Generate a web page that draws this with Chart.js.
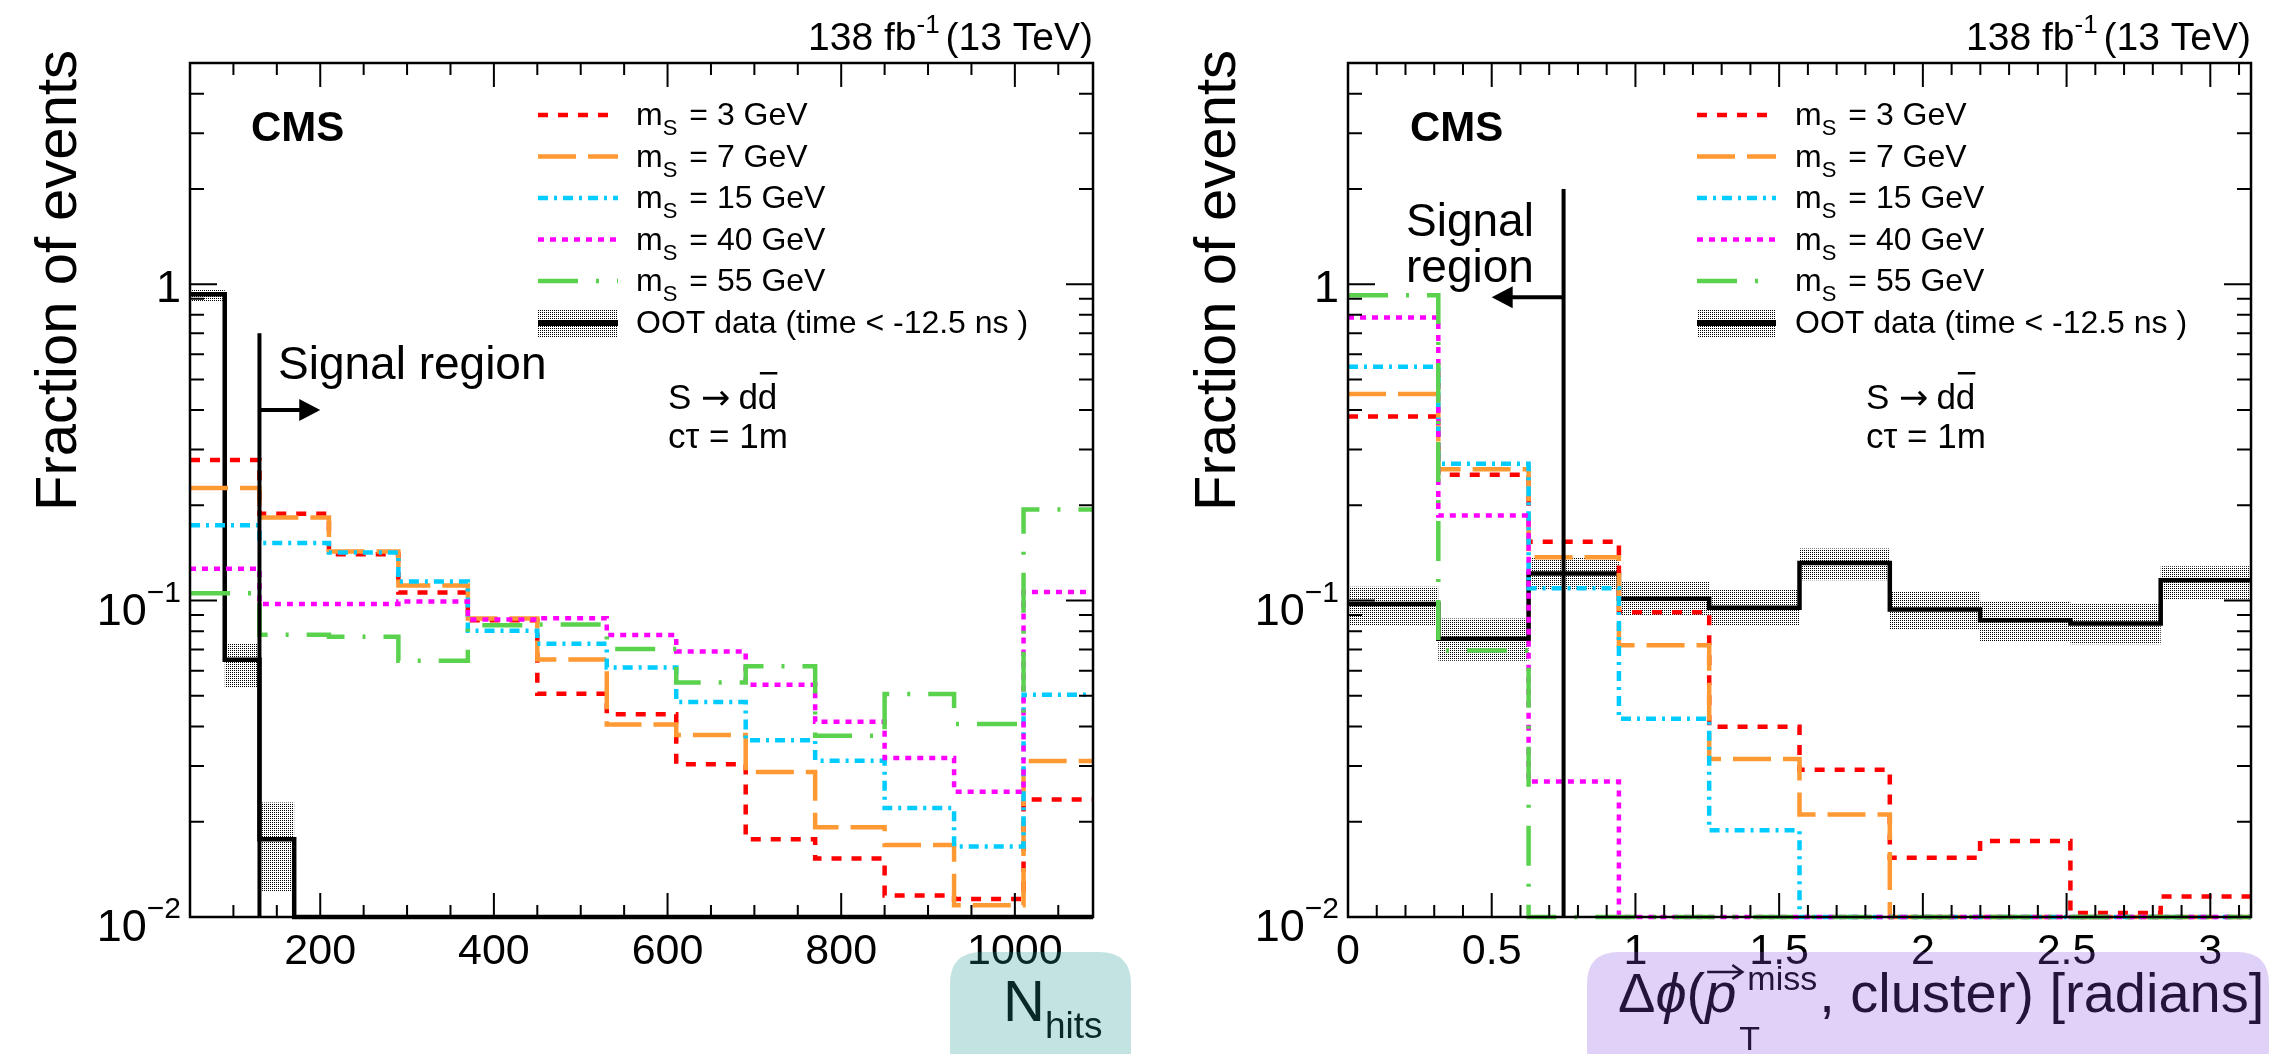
<!DOCTYPE html>
<html>
<head>
<meta charset="utf-8">
<script src="https://cdn.jsdelivr.net/npm/chart.js@4.4.1/dist/chart.umd.min.js"></script>
<style>
  body { margin: 0; background: #fff; }
  #wrap { position: relative; width: 2269px; height: 1054px; }
  canvas { position: absolute; top: 0; }
</style>
</head>
<body>
<div id="wrap">
  <canvas id="hitsChart" width="1134" height="1054" style="left:0"></canvas>
  <canvas id="dphiChart" width="1135" height="1054" style="left:1134px"></canvas>
</div>
<script>
// ---- data ----
const massLabels = ['3', '7', '15', '40', '55'];

// N_hits: signal bins (80 wide) and OOT data bins (40 wide)
const hitsEdges = [50, 130, 210, 290, 370, 450, 530, 610, 690, 770, 850, 930, 1010, 1090];
const hitsM3 = [0.278, 0.188, 0.140, 0.106, 0.0866, 0.0508, 0.0437, 0.0304, 0.0176, 0.0153, 0.0117, 0.0114, 0.0235];
const hitsM7 = [0.227, 0.183, 0.143, 0.1115, 0.0877, 0.0651, 0.0406, 0.0376, 0.0287, 0.0192, 0.0169, 0.0109, 0.0311];
const hitsM15 = [0.173, 0.152, 0.142, 0.115, 0.0803, 0.073, 0.0614, 0.0478, 0.0362, 0.0312, 0.0221, 0.0167, 0.0504];
const hitsM40 = [0.126, 0.0976, 0.0976, 0.0994, 0.0872, 0.088, 0.0778, 0.069, 0.0542, 0.0414, 0.0318, 0.0249, 0.1065];
const hitsM55 = [0.1054, 0.078, 0.0768, 0.0646, 0.0836, 0.084, 0.0703, 0.0551, 0.062, 0.0374, 0.0507, 0.0407, 0.194];
const hitsOotEdges = [50, 90, 130, 170, 210, 250, 290, 330, 370, 410, 450, 490, 530, 570, 610,
  650, 690, 730, 770, 810, 850, 890, 930, 970, 1010, 1050, 1090];
const hitsOot = [0.93, 0.065, 0.0176, 0, 0, 0, 0, 0, 0, 0, 0, 0, 0, 0, 0, 0, 0, 0, 0, 0, 0, 0, 0, 0, 0, 0];
const hitsOotLo = [0.885, 0.0532, 0.012, 0, 0, 0, 0, 0, 0, 0, 0, 0, 0, 0, 0, 0, 0, 0, 0, 0, 0, 0, 0, 0, 0, 0];
const hitsOotHi = [0.965, 0.0734, 0.023, 0, 0, 0, 0, 0, 0, 0, 0, 0, 0, 0, 0, 0, 0, 0, 0, 0, 0, 0, 0, 0, 0, 0];
const hitsTicks = [200, 400, 600, 800, 1000];

// delta phi: 10 bins of pi/10
const dphiEdges = [0, 0.3142, 0.6283, 0.9425, 1.2566, 1.5708, 1.885, 2.1991, 2.5133, 2.8274, 3.1416];
const dphiM3 = [0.382, 0.250, 0.1535, 0.0918, 0.0399, 0.0292, 0.0154, 0.0174, 0.0103, 0.0116];
const dphiM7 = [0.450, 0.260, 0.137, 0.0722, 0.0316, 0.0211, 0, 0, 0, 0];
const dphiM15 = [0.548, 0.2705, 0.1094, 0.0423, 0.0188, 0, 0, 0, 0, 0];
const dphiM40 = [0.785, 0.1856, 0.0268, 0, 0, 0, 0, 0, 0, 0];
const dphiM55 = [0.922, 0.0696, 0, 0, 0, 0, 0, 0, 0, 0];
const dphiOot = [0.0976, 0.0758, 0.1217, 0.1013, 0.095, 0.1315, 0.0938, 0.0867, 0.0847, 0.116];
const dphiOotLo = [0.0832, 0.0646, 0.1086, 0.090, 0.0832, 0.116, 0.081, 0.0742, 0.0728, 0.101];
const dphiOotHi = [0.1106, 0.0877, 0.137, 0.1145, 0.1086, 0.146, 0.107, 0.0989, 0.0976, 0.1284];
const dphiTicks = [0, 0.5, 1, 1.5, 2, 2.5, 3];

// signal region cuts
const hitsCut = { x: 130, top: 0.7, arrowY: 0.4, arrowTo: 200 };
const dphiCut = { x: 0.75, top: 2.0, arrowY: 0.91, arrowTo: 0.5 };

const yMin = 0.01, yMax = 5;

// ---- styles ----
const FONT = "'Liberation Sans', Arial, Helvetica, sans-serif";
Chart.defaults.font.family = FONT;
Chart.defaults.color = '#000';

const massStyles = [
  { color: '#ff0000', dash: [10, 10] },
  { color: '#ff9933', dash: [38, 12] },
  { color: '#00ccff', dash: [10, 6, 3, 6] },
  { color: '#ff00ff', dash: [6, 6] },
  { color: '#5ad24e', dash: [40, 18, 3, 18] }
];

// dotted fill like ROOT's hatch for the OOT band
function dotPattern() {
  const c = document.createElement('canvas');
  c.width = 2; c.height = 2;
  const g = c.getContext('2d');
  g.fillStyle = '#000';
  g.fillRect(0, 0, 1, 1);
  return g.createPattern(c, 'repeat');
}

function histPoints(edges, values) {
  const pts = values.map((v, i) => ({ x: edges[i], y: Math.max(v, yMin) }));
  pts.push({ x: edges[edges.length - 1], y: Math.max(values[values.length - 1], yMin) });
  return pts;
}

function fontStr(p) {
  return (p.style || '') + ' ' + (p.weight || '') + ' ' + p.size + 'px ' + (p.family || FONT);
}

// draws a run of text pieces (sub/superscripts via dy), returns end x
function drawParts(ctx, parts, x, y, align) {
  let w = 0;
  parts.forEach(p => { ctx.font = fontStr(p); p.w = ctx.measureText(p.t).width; w += p.w + (p.gap || 0); });
  let cx = align === 'right' ? x - w : x;
  parts.forEach(p => {
    ctx.font = fontStr(p);
    ctx.fillText(p.t, cx, y + (p.dy || 0));
    cx += p.w + (p.gap || 0);
  });
  return cx;
}

function roundRect(ctx, x, y, w, h, r) {
  ctx.beginPath();
  ctx.moveTo(x + r, y);
  ctx.lineTo(x + w - r, y);
  ctx.quadraticCurveTo(x + w, y, x + w, y + r);
  ctx.lineTo(x + w, y + h - r);
  ctx.quadraticCurveTo(x + w, y + h, x + w - r, y + h);
  ctx.lineTo(x + r, y + h);
  ctx.quadraticCurveTo(x, y + h, x, y + h - r);
  ctx.lineTo(x, y + r);
  ctx.quadraticCurveTo(x, y, x + r, y);
  ctx.closePath();
}

function makeDecor(p) {
  return {
    id: 'decor-' + p.id,
    afterDraw(chart) {
      const ctx = chart.ctx;
      const a = chart.chartArea;
      const xs = chart.scales.x, ys = chart.scales.y;
      ctx.save();
      ctx.fillStyle = '#000';
      ctx.strokeStyle = '#000';
      ctx.textAlign = 'left';
      ctx.textBaseline = 'alphabetic';

      // frame
      ctx.lineWidth = 2.5;
      ctx.strokeRect(a.left, a.top, a.right - a.left, a.bottom - a.top);

      // inward ticks on all four sides
      ctx.lineWidth = 2;
      ctx.beginPath();
      for (let v = p.xMinorStart; v <= xs.max + 1e-9; v += p.xMinorStep) {
        const px = xs.getPixelForValue(v);
        const major = p.xTicks.some(t => Math.abs(t - v) < 1e-6);
        const len = major ? 24 : 12;
        ctx.moveTo(px, a.bottom); ctx.lineTo(px, a.bottom - len);
        ctx.moveTo(px, a.top); ctx.lineTo(px, a.top + len);
      }
      for (let d = 0.01; d <= 1; d *= 10) {
        for (let k = 1; k <= 9; k++) {
          const v = k * d;
          if (v > yMax + 1e-9) break;
          const py = ys.getPixelForValue(v);
          const len = k === 1 ? 27 : 14;
          ctx.moveTo(a.left, py); ctx.lineTo(a.left + len, py);
          ctx.moveTo(a.right, py); ctx.lineTo(a.right - len, py);
        }
      }
      ctx.stroke();

      // y tick labels
      [0.01, 0.1, 1].forEach(v => {
        const py = ys.getPixelForValue(v);
        if (v === 1) {
          drawParts(ctx, [{ t: '1', size: 45 }], a.left - 9, py + 18, 'right');
        } else {
          const e = Math.round(Math.log10(v));
          ctx.font = fontStr({ size: 30 });
          const sw = ctx.measureText('\u2212' + (-e)).width;
          drawParts(ctx, [{ t: '10', size: 45 }], a.left - 9 - sw, py + 24, 'right');
          drawParts(ctx, [{ t: '\u2212' + (-e), size: 30 }], a.left - 9 - sw, py + 1, 'left');
        }
      });

      // y title
      ctx.save();
      ctx.translate(p.yTitleX, 50);
      ctx.rotate(-Math.PI / 2);
      ctx.textAlign = 'right';
      ctx.font = fontStr({ size: 58 });
      ctx.fillText('Fraction of events', 0, 0);
      ctx.restore();

      // luminosity label
      drawParts(ctx, [
        { t: '138 fb', size: 39 },
        { t: '-1', size: 26, dy: -17, gap: 6 },
        { t: '(13 TeV)', size: 39 }
      ], a.right, 50, 'right');

      // CMS
      drawParts(ctx, [{ t: 'CMS', size: 42, weight: 'bold' }], p.cmsX, 141, 'left');

      // legend
      const rows = [115, 156.5, 198, 239.5, 281, 323];
      const ds = chart.data.datasets.filter(d => d.isSignal);
      ds.forEach((d, i) => {
        const y = rows[i];
        ctx.save();
        ctx.strokeStyle = d.borderColor;
        ctx.lineWidth = d.borderWidth;
        ctx.setLineDash(d.borderDash);
        ctx.beginPath();
        ctx.moveTo(p.legend.x0, y); ctx.lineTo(p.legend.x1, y);
        ctx.stroke();
        ctx.restore();
        drawParts(ctx, [
          { t: 'm', size: 32 },
          { t: 'S', size: 22, dy: 10, gap: 12 },
          { t: '= ' + massLabels[i] + ' GeV', size: 32 }
        ], p.legend.tx, y + 10, 'left');
      });
      const yo = rows[5];
      ctx.fillStyle = p.pattern;
      ctx.fillRect(p.legend.x0, yo - 14, p.legend.x1 - p.legend.x0, 28);
      ctx.fillStyle = '#000';
      ctx.fillRect(p.legend.x0, yo - 3, p.legend.x1 - p.legend.x0, 6);
      drawParts(ctx, [{ t: 'OOT data (time < -12.5 ns )', size: 32 }], p.legend.tx, yo + 10, 'left');

      // process labels
      const ex = drawParts(ctx, [
        { t: 'S ', size: 35 },
        { t: '\u2192', size: 35, family: "'DejaVu Sans', sans-serif", gap: 8 },
        { t: 'd', size: 35 }
      ], p.procX, 409, 'left');
      ctx.font = fontStr({ size: 35 });
      const dw = ctx.measureText('d').width;
      ctx.fillText('d', ex, 409);
      ctx.fillRect(ex + 2, 372, dw - 2, 2.5);
      drawParts(ctx, [{ t: 'c\u03c4 = 1m', size: 35 }], p.procX, 448, 'left');

      // signal region arrow
      const cx = xs.getPixelForValue(p.cut.x);
      const ay = ys.getPixelForValue(p.cut.arrowY);
      const tx = xs.getPixelForValue(p.cut.arrowTo);
      const dir = Math.sign(tx - cx);
      ctx.lineWidth = 4;
      ctx.beginPath();
      ctx.moveTo(cx, ay); ctx.lineTo(tx - dir * 18, ay);
      ctx.stroke();
      ctx.beginPath();
      ctx.moveTo(tx, ay); ctx.lineTo(tx - dir * 21, ay - 11); ctx.lineTo(tx - dir * 21, ay + 11);
      ctx.closePath(); ctx.fill();
      p.signalText.forEach(s => drawParts(ctx, [{ t: s.t, size: 46 }], s.x, s.y, 'left'));

      // x title
      p.drawTitle(ctx);

      // highlight box over the axis title
      const h = p.highlight;
      ctx.fillStyle = h.color;
      roundRect(ctx, h.x, h.y, h.w, h.h, h.r);
      ctx.fill();
      ctx.restore();
    }
  };
}

function buildChart(p) {
  const pattern = dotPattern();
  p.pattern = pattern;
  const datasets = [
    { data: histPoints(p.ootEdges, p.ootLo), stepped: true, borderWidth: 0, borderColor: 'rgba(0,0,0,0)',
      pointRadius: 0, fill: false, order: 12 },
    { data: histPoints(p.ootEdges, p.ootHi), stepped: true, borderWidth: 0, borderColor: 'rgba(0,0,0,0)',
      pointRadius: 0, fill: '-1', backgroundColor: pattern, order: 11 },
    { data: histPoints(p.ootEdges, p.oot), stepped: true, borderWidth: 4.5, borderColor: '#000',
      pointRadius: 0, fill: false, order: 10, clip: 8 }
  ];
  p.series.forEach((s, i) => {
    datasets.push({
      isSignal: true,
      data: histPoints(p.edges, s),
      stepped: true,
      borderColor: massStyles[i].color,
      borderDash: massStyles[i].dash,
      borderWidth: 4.5,
      pointRadius: 0,
      fill: false,
      clip: 8,
      order: 5 - i
    });
  });
  datasets.push({
    data: [{ x: p.cut.x, y: p.cut.top }, { x: p.cut.x, y: yMin }],
    borderColor: '#000', borderWidth: 4, pointRadius: 0, fill: false, order: 0
  });

  return new Chart(document.getElementById(p.id), {
    type: 'line',
    data: { datasets },
    options: {
      responsive: false,
      animation: false,
      events: [],
      layout: { padding: { left: 0, right: p.padRight, top: 63, bottom: 0 } },
      plugins: { legend: { display: false }, tooltip: { enabled: false } },
      scales: {
        x: {
          type: 'linear', min: p.xMin, max: p.xMax,
          grid: { display: false, drawTicks: false },
          border: { display: false },
          ticks: { autoSkip: false, maxRotation: 0, padding: 9, color: '#000',
                   font: { size: 43 }, callback: v => String(v) },
          afterBuildTicks: s => { s.ticks = p.xTicks.map(v => ({ value: v })); },
          afterFit: s => { s.height = 137; }
        },
        y: {
          type: 'logarithmic', min: yMin, max: yMax,
          grid: { display: false, drawTicks: false },
          border: { display: false },
          ticks: { display: false },
          afterFit: s => { s.width = p.yAxisWidth; }
        }
      }
    },
    plugins: [makeDecor(p)]
  });
}

buildChart({
  id: 'hitsChart',
  edges: hitsEdges,
  series: [hitsM3, hitsM7, hitsM15, hitsM40, hitsM55],
  ootEdges: hitsOotEdges, oot: hitsOot, ootLo: hitsOotLo, ootHi: hitsOotHi,
  xMin: 50, xMax: 1090, xTicks: hitsTicks, xMinorStart: 100, xMinorStep: 50,
  cut: hitsCut,
  padRight: 41, yAxisWidth: 190,
  yTitleX: 76, cmsX: 251, procX: 668,
  legend: { x0: 538, x1: 618, tx: 636 },
  signalText: [{ t: 'Signal region', x: 278, y: 379 }],
  highlight: { x: 950, y: 952, w: 181, h: 130, r: 32, color: 'rgba(35,150,150,0.27)' },
  drawTitle(ctx) {
    drawParts(ctx, [
      { t: 'N', size: 58 },
      { t: 'hits', size: 37, dy: 17, gap: 0 }
    ], 1003, 1021, 'left');
  }
});

buildChart({
  id: 'dphiChart',
  edges: dphiEdges,
  series: [dphiM3, dphiM7, dphiM15, dphiM40, dphiM55],
  ootEdges: dphiEdges, oot: dphiOot, ootLo: dphiOotLo, ootHi: dphiOotHi,
  xMin: 0, xMax: Math.PI, xTicks: dphiTicks, xMinorStart: 0, xMinorStep: 0.1,
  cut: dphiCut,
  padRight: 18, yAxisWidth: 214,
  yTitleX: 101, cmsX: 276, procX: 732,
  legend: { x0: 563, x1: 642, tx: 661 },
  signalText: [{ t: 'Signal', x: 272, y: 236 }, { t: 'region', x: 272, y: 282 }],
  highlight: { x: 453, y: 952, w: 682, h: 130, r: 32, color: 'rgba(135,77,230,0.26)' },
  drawTitle(ctx) {
    const base = 1012;
    let x = drawParts(ctx, [
      { t: '\u0394', size: 56 },
      { t: '\u03d5', size: 56, style: 'italic' },
      { t: '(', size: 56 }
    ], 484, base, 'left');
    ctx.font = fontStr({ size: 56, style: 'italic' });
    const pw = ctx.measureText('p').width;
    ctx.fillText('p', x, base);
    // vector arrow over p
    ctx.lineWidth = 2.5;
    ctx.beginPath();
    ctx.moveTo(x + 2, base - 40); ctx.lineTo(x + pw + 6, base - 40);
    ctx.moveTo(x + pw - 4, base - 47); ctx.lineTo(x + pw + 6, base - 40); ctx.lineTo(x + pw - 4, base - 33);
    ctx.stroke();
    const px = x + pw + 3;
    const e1 = drawParts(ctx, [{ t: 'miss', size: 34 }], px + 8, base - 22, 'left');
    drawParts(ctx, [{ t: 'T', size: 34 }], px, base + 38, 'left');
    drawParts(ctx, [{ t: ', cluster) [radians]', size: 56 }], e1 + 2, base, 'left');
  }
});
</script>
</body>
</html>
